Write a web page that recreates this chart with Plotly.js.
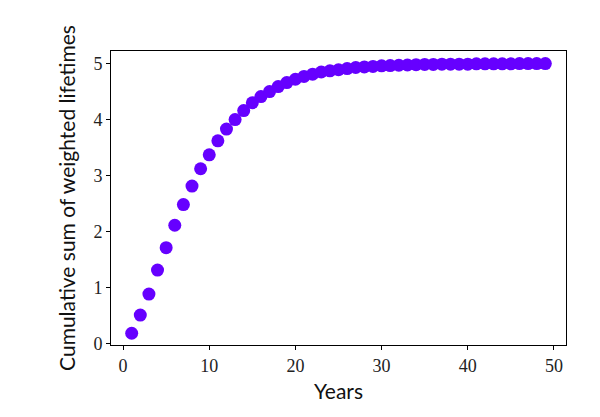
<!DOCTYPE html>
<html>
<head>
<meta charset="utf-8">
<script src="https://cdn.plot.ly/plotly-3.0.1.min.js"></script>
<style>html,body{margin:0;padding:0;background:#fff;}#chart{width:600px;height:417px;}</style>
</head>
<body>
<div id="chart"></div>
<script>
const years = [1,2,3,4,5,6,7,8,9,10,11,12,13,14,15,16,17,18,19,20,21,22,23,24,25,26,27,28,29,30,31,32,33,34,35,36,37,38,39,40,41,42,43,44,45,46,47,48,49];
const cumulativeLifetimes = [0.18,0.505,0.88,1.31,1.71,2.11,2.48,2.81,3.12,3.37,3.62,3.83,4.0,4.16,4.30,4.41,4.50,4.59,4.66,4.72,4.77,4.81,4.85,4.87,4.89,4.91,4.93,4.94,4.95,4.96,4.965,4.97,4.975,4.98,4.985,4.985,4.99,4.99,4.99,4.99,4.995,4.995,4.995,4.995,4.995,5.0,5.0,5.0,5.0];
const xTicks = [0,10,20,30,40,50];
const yTicks = [0,1,2,3,4,5];

const trace = {
  x: years, y: cumulativeLifetimes, type: 'scatter', mode: 'markers',
  marker: {color: '#6600ff', size: 13, line: {width: 0}},
  hoverinfo: 'skip'
};
const serif = 'Liberation Serif';
const sans = 'Lato';
const axisCommon = {
  showgrid: false, zeroline: false, showline: true, linecolor: '#000', linewidth: 1,
  mirror: true, ticks: 'outside', ticklen: 4, tickwidth: 1, tickcolor: '#000',
  tickfont: {family: serif, size: 18, color: '#222'}
};
const layout = {
  width: 600, height: 417,
  margin: {l: 111, r: 34, t: 51, b: 72},
  paper_bgcolor: '#fff', plot_bgcolor: '#fff', showlegend: false,
  xaxis: Object.assign({}, axisCommon, {
    range: [-1.4, 51.4], tickvals: xTicks, ticktext: xTicks.map(String),
    title: {text: 'Years', font: {family: sans, size: 21, color: '#111'}, standoff: 9}
  }),
  yaxis: Object.assign({}, axisCommon, {
    range: [-0.03, 5.225], tickvals: yTicks, ticktext: yTicks.map(String),
    title: {text: 'Cumulative sum of weighted lifetimes', font: {family: sans, size: 21, color: '#111'}, standoff: 12}
  })
};
Plotly.newPlot('chart', [trace], layout, {displayModeBar: false, staticPlot: true});
</script>
</body>
</html>
